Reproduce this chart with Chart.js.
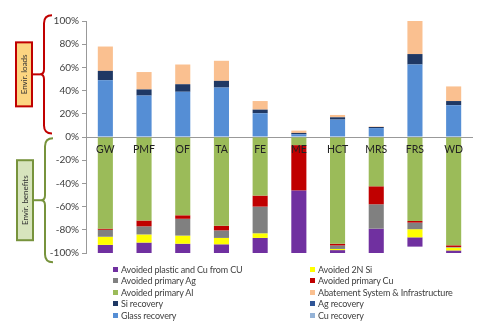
<!DOCTYPE html>
<html>
<head>
<meta charset="utf-8">
<script src="https://cdn.jsdelivr.net/npm/chart.js@4"></script>
<style>
  body { margin: 0; background: #fff; }
  #wrap { position: relative; width: 480px; height: 331px; }
  #legend { position: absolute; top: 264px; left: 0; width: 480px; font: 9px Lato, sans-serif; letter-spacing: -0.15px; color: #404040; }
  .item { position: absolute; height: 11px; line-height: 11px; white-space: nowrap; }
  .item span { display: inline-block; width: 5px; height: 5px; margin-right: 3px; vertical-align: 1px; }
</style>
</head>
<body>
<div id="wrap">
  <canvas id="impactChart"></canvas>
  <div id="legend"></div>
</div>
<script>
const categories = ['GW', 'PMF', 'OF', 'TA', 'FE', 'ME', 'HCT', 'MRS', 'FRS', 'WD'];
const yTicks = [-100, -80, -60, -40, -20, 0, 20, 40, 60, 80, 100];

// loads (positive side), closest to axis first
const glassRecovery = [49, 35.7, 39, 42.6, 20.5, 2.3, 15, 7.7, 62.5, 27.4];
const cuRecovery = [0, 0, 0, 0, 0, 0, 0, 0, 0, 0];
const agRecovery = [0, 0, 0, 0, 0, 0, 0, 0, 0, 0];
const siRecovery = [8, 5.3, 6.5, 5.8, 3.1, 1.2, 2, 0.9, 9, 3.6];
const abatement = [21, 15, 17, 17.3, 7.4, 2, 2, 0.4, 28.5, 12.6];

// benefits (negative side), closest to axis first
const avoidedAl = [-79, -72, -67.5, -76.5, -50.5, -7, -92, -42.5, -72.4, -93.4];
const avoidedCu = [-1, -5, -3, -4, -9.5, -39, -1.5, -15.5, -1.4, -1.4];
const avoidedAg = [-6, -7, -14.5, -6.5, -23, 0, -3, -21, -5.7, -0.5];
const avoidedSi = [-7, -7, -7, -5.5, -4, 0, -1, 0, -7, -2.5];
const avoidedCU = [-7, -9, -8, -7.5, -13, -54, -2.5, -21, -8, -2.2];

const datasets = [
    { label: 'Glass recovery', data: glassRecovery, backgroundColor: '#558ED5' },
    { label: 'Cu recovery', data: cuRecovery, backgroundColor: '#95B3D7' },
    { label: 'Ag recovery', data: agRecovery, backgroundColor: '#2F5597' },
    { label: 'Si recovery', data: siRecovery, backgroundColor: '#1F3864' },
    { label: 'Abatement System & Infrastructure', data: abatement, backgroundColor: '#FAC090' },
    { label: 'Avoided primary Al', data: avoidedAl, backgroundColor: '#9BBB59' },
    { label: 'Avoided primary Cu', data: avoidedCu, backgroundColor: '#C00000' },
    { label: 'Avoided primary Ag', data: avoidedAg, backgroundColor: '#808080' },
    { label: 'Avoided 2N Si', data: avoidedSi, backgroundColor: '#FFFF00' },
    { label: 'Avoided plastic and Cu from CU', data: avoidedCU, backgroundColor: '#7030A0' },
];

// legend order as in the original (two columns, read row by row)
const legendOrder = [
    'Avoided plastic and Cu from CU', 'Avoided 2N Si',
    'Avoided primary Ag', 'Avoided primary Cu',
    'Avoided primary Al', 'Abatement System & Infrastructure',
    'Si recovery', 'Ag recovery',
    'Glass recovery', 'Cu recovery'
];

function drawBrace(ctx, x, top, bottom, color) {
    const mid = (top + bottom) / 2;
    ctx.beginPath();
    ctx.moveTo(x + 8, top);
    ctx.quadraticCurveTo(x, top, x, top + 8);
    ctx.lineTo(x, mid - 5);
    ctx.quadraticCurveTo(x, mid, x - 4, mid);
    ctx.quadraticCurveTo(x, mid, x, mid + 5);
    ctx.lineTo(x, bottom - 8);
    ctx.quadraticCurveTo(x, bottom, x + 8, bottom);
    ctx.strokeStyle = color;
    ctx.lineWidth = 2;
    ctx.stroke();
    return mid;
}

function drawTag(ctx, x, mid, w, h, fill, stroke, text, lineX) {
    ctx.beginPath();
    ctx.moveTo(x + w, mid);
    ctx.lineTo(lineX, mid);
    ctx.strokeStyle = stroke;
    ctx.lineWidth = 2;
    ctx.stroke();
    ctx.fillStyle = fill;
    ctx.fillRect(x, mid - h / 2, w, h);
    ctx.strokeRect(x, mid - h / 2, w, h);
    ctx.save();
    ctx.translate(x + w / 2, mid);
    ctx.rotate(-Math.PI / 2);
    ctx.fillStyle = '#333';
    ctx.font = '8px Lato';
    ctx.textAlign = 'center';
    ctx.textBaseline = 'middle';
    ctx.fillText(text, 0, 0);
    ctx.restore();
}

const sidePlugin = {
    id: 'sideNotes',
    afterDatasetsDraw(chart) {
        const { ctx, scales: { x, y } } = chart;
        ctx.save();
        // category names sit just under the zero line
        ctx.font = '10.5px Lato';
        ctx.fillStyle = '#222';
        ctx.textAlign = 'center';
        ctx.textBaseline = 'middle';
        categories.forEach((c, i) => ctx.fillText(c, x.getPixelForValue(i), y.getPixelForValue(0) + 13));

        const redMid = drawBrace(ctx, 44, y.getPixelForValue(105), y.getPixelForValue(3), '#C00000');
        drawTag(ctx, 16, redMid, 16, 64, '#FCD581', '#C00000', 'Envir. loads', 40);
        const greenMid = drawBrace(ctx, 45, y.getPixelForValue(-1), y.getPixelForValue(-108), '#77933C');
        drawTag(ctx, 17, greenMid, 16, 80, '#D7E4BD', '#77933C', 'Envir. benefits', 41);
        ctx.restore();
    }
};

function buildLegend() {
    const box = document.getElementById('legend');
    legendOrder.forEach((name, i) => {
        const ds = datasets.find(d => d.label === name);
        const el = document.createElement('div');
        el.className = 'item';
        el.style.left = (i % 2 === 0 ? 113 : 310) + 'px';
        el.style.top = (Math.floor(i / 2) * 11.4) + 'px';
        el.innerHTML = '<span style="background:' + ds.backgroundColor + '"></span>' + name;
        box.appendChild(el);
    });
}

document.addEventListener('DOMContentLoaded', () => {
    const ctx = document.getElementById('impactChart').getContext('2d');
    new Chart(ctx, {
        type: 'bar',
        data: { labels: categories, datasets: datasets },
        options: {
            responsive: true,
            maintainAspectRatio: false,
            animation: false,
            layout: { padding: { top: 21, bottom: 78, right: 7, left: 0 } },
            datasets: { bar: { categoryPercentage: 1, barPercentage: 0.39 } },
            plugins: {
                legend: { display: false },
                tooltip: { enabled: false }
            },
            scales: {
                x: { stacked: true, display: false },
                y: {
                    stacked: true,
                    min: -100,
                    max: 100,
                    afterFit: (scale) => { scale.width = 86; },
                    afterBuildTicks: (scale) => { scale.ticks = yTicks.map(v => ({ value: v })); },
                    border: { color: '#999' },
                    grid: {
                        color: (c) => (c.tick && c.tick.value === 0 ? '#999' : 'transparent'),
                        tickColor: '#999',
                        tickLength: 4
                    },
                    ticks: {
                        callback: (v) => v + '%',
                        font: { family: 'Lato', size: 10 },
                        color: '#404040',
                        padding: 3
                    }
                }
            }
        },
        plugins: [sidePlugin]
    });
    buildLegend();
});
</script>
</body>
</html>
